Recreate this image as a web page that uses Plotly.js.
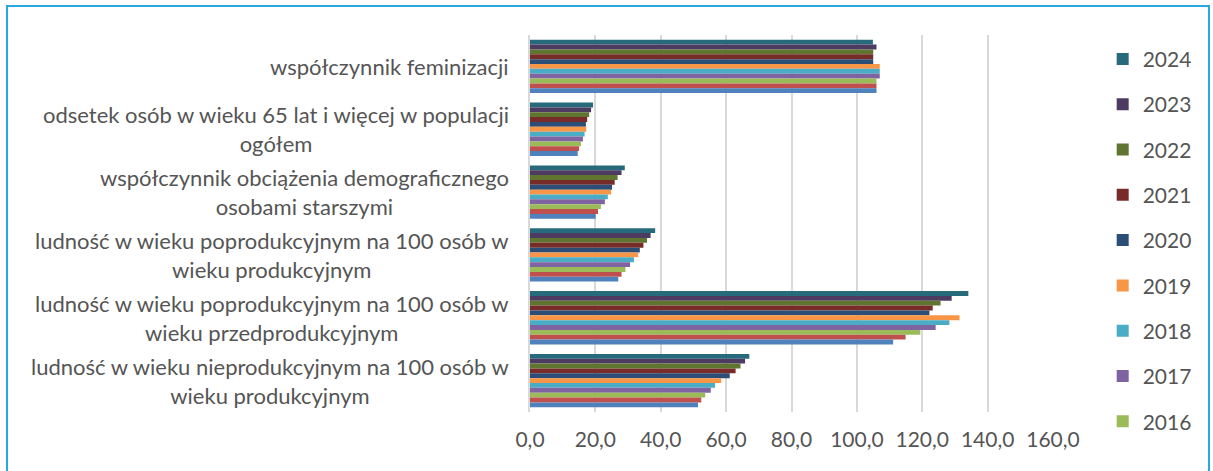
<!DOCTYPE html>
<html>
<head>
<meta charset="utf-8">
<script src="https://cdn.plot.ly/plotly-3.0.1.min.js"></script>
<style>
  html, body { margin: 0; padding: 0; background: #fff; }
  #wrap { position: relative; width: 1213px; height: 471px; overflow: hidden; }
  #chart { position: absolute; left: 0; top: 0; width: 1213px; height: 471px; }
  #frame { position: absolute; left: 6px; top: 5px; width: 1200px; height: 490px;
           border: 2px solid #2AA8E0; pointer-events: none; }
</style>
</head>
<body>
<div id="wrap">
  <div id="chart"></div>
  <div id="frame"></div>
</div>
<script>
// Categories, top to bottom
const categories = [
  "współczynnik feminizacji",
  "odsetek osób w wieku 65 lat i więcej w populacji<br>ogółem",
  "współczynnik obciążenia demograficznego<br>osobami starszymi",
  "ludność w wieku poprodukcyjnym na 100 osób w<br>wieku produkcyjnym",
  "ludność w wieku poprodukcyjnym na 100 osób w<br>wieku przedprodukcyjnym",
  "ludność w wieku nieprodukcyjnym na 100 osób w<br>wieku produkcyjnym"
];

const years = ["2024","2023","2022","2021","2020","2019","2018","2017","2016","2015","2014"];

// values per year, same order as categories
const v2024 = [104.9, 19.3, 29.0, 38.3, 134.1, 67.1];
const v2023 = [106.0, 18.7, 28.0, 36.9, 129.0, 65.8];
const v2022 = [105.0, 18.1, 26.8, 35.8, 125.6, 64.4];
const v2021 = [105.0, 17.5, 25.9, 34.7, 123.2, 62.9];
const v2020 = [105.0, 17.1, 25.1, 33.6, 122.2, 61.1];
const v2019 = [107.0, 17.2, 24.8, 33.1, 131.4, 58.5];
const v2018 = [107.0, 16.7, 23.8, 31.8, 128.3, 56.6];
const v2017 = [107.0, 16.2, 22.9, 30.6, 124.1, 55.3];
const v2016 = [106.0, 15.6, 21.7, 29.2, 119.4, 53.6];
const v2015 = [106.0, 15.0, 20.8, 28.0, 114.9, 52.4];
const v2014 = [106.0, 14.6, 20.1, 27.0, 111.1, 51.4];

const seriesValues = [v2024, v2023, v2022, v2021, v2020, v2019, v2018, v2017, v2016, v2015, v2014];
const colors = ["#276A7C","#4D3B62","#5F7530","#772C2A","#2C4D75","#F79646",
                "#4BACC6","#8064A2","#9BBB59","#C0504D","#4F81BD"];
const legendHidden = ["2014","2015"];

const xTickVals = [0,20,40,60,80,100,120,140,160];
const xTickText = ["0,0","20,0","40,0","60,0","80,0","100,0","120,0","140,0","160,0"];

const FONT = "Lato, 'Open Sans', sans-serif";
const GREY = "#555555";

const traces = years.map((y, i) => ({
  type: "bar",
  orientation: "h",
  name: y,
  x: seriesValues[i],
  y: categories,
  marker: { color: colors[i], line: { width: 0 } },
  legendgroup: y,
  showlegend: legendHidden.indexOf(y) === -1,
  hoverinfo: "x+name"
}));

const annotations = categories.map(c => ({
  xref: "paper", yref: "y",
  x: 0, y: c,
  xanchor: "right", yanchor: "middle",
  xshift: -19,
  text: c, align: "center",
  showarrow: false,
  font: { family: FONT, size: 22, color: GREY }
}));

const layout = {
  width: 1213, height: 471,
  margin: { l: 530, r: 160, t: 34.5, b: 59 },
  paper_bgcolor: "#ffffff",
  plot_bgcolor: "#ffffff",
  barmode: "group",
  bargap: 0.15,
  bargroupgap: 0,
  font: { family: FONT, size: 21, color: GREY },
  xaxis: {
    range: [0, 160],
    tickvals: xTickVals,
    ticktext: xTickText,
    showgrid: true,
    gridcolor: "#D9D9D9",
    gridwidth: 2,
    zeroline: false,
    showline: false,
    ticks: "",
    ticklabelstandoff: 13,
    tickfont: { family: FONT, size: 21, color: GREY },
    fixedrange: true
  },
  yaxis: {
    type: "category",
    categoryorder: "array",
    categoryarray: categories,
    autorange: "reversed",
    showticklabels: false,
    showgrid: false,
    zeroline: false,
    showline: true,
    linecolor: "#D9D9D9",
    linewidth: 2,
    ticks: "",
    fixedrange: true
  },
  legend: {
    x: 1.095, xanchor: "left",
    y: 0.99, yanchor: "top",
    traceorder: "grouped",
    tracegroupgap: 15,
    maxheight: 470,
    font: { family: FONT, size: 21, color: GREY },
    bgcolor: "rgba(0,0,0,0)"
  },
  annotations: annotations,
  showlegend: true
};

Plotly.newPlot("chart", traces, layout, { displayModeBar: false, staticPlot: true });
</script>
</body>
</html>
